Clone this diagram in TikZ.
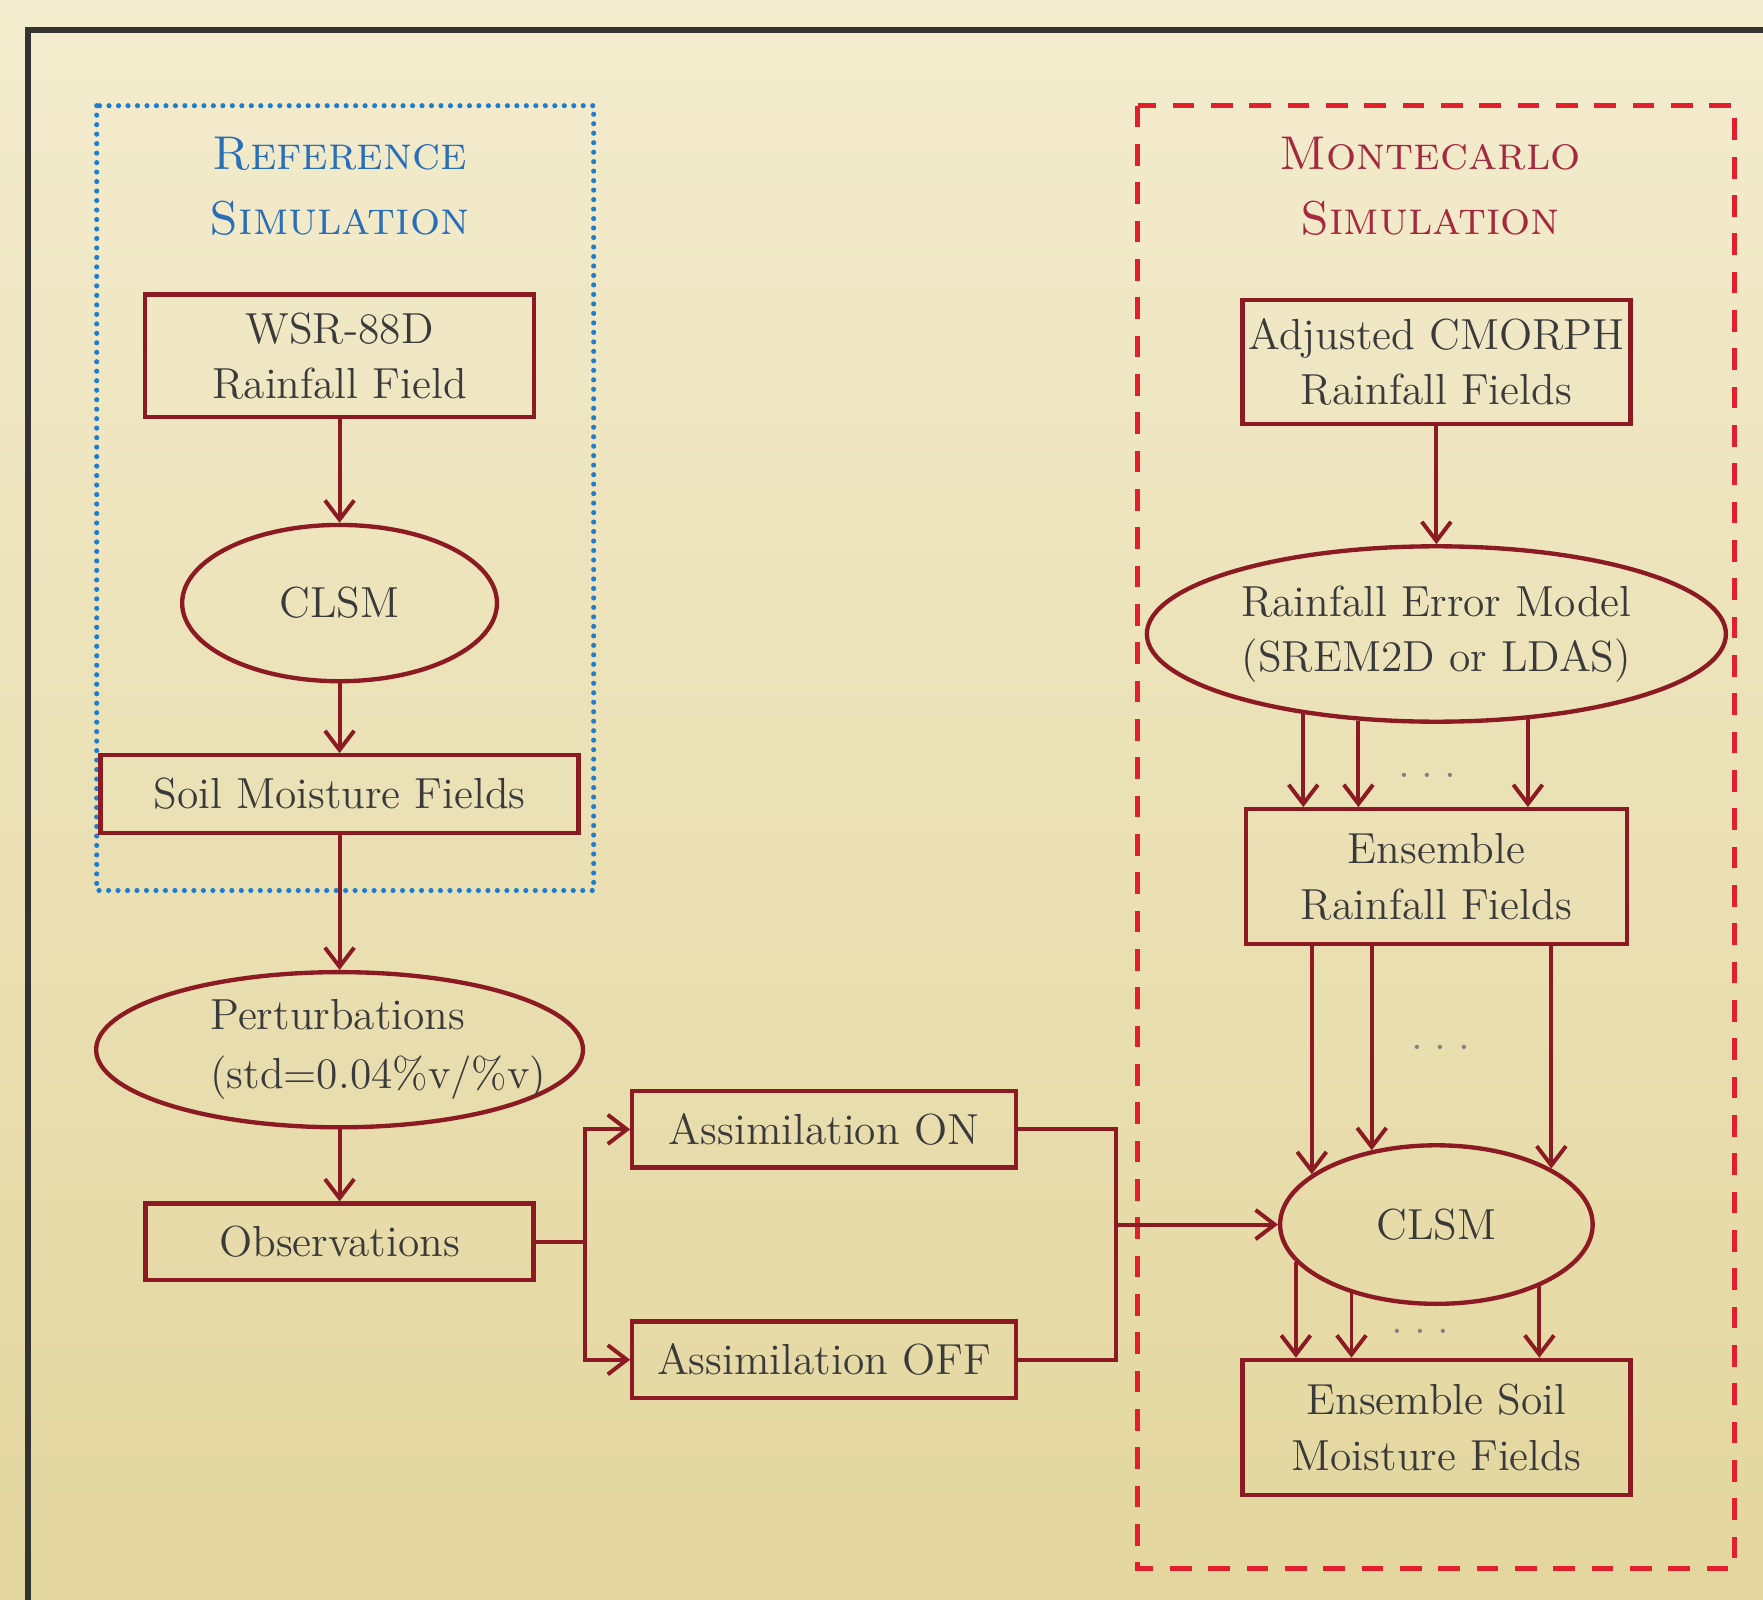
\documentclass[tikz,border=0pt]{standalone}
\usepackage{tikz}
\usetikzlibrary{calc,positioning,arrows.meta,shapes.geometric}
\definecolor{parchtop}{RGB}{243,236,206}
\definecolor{parchbot}{RGB}{227,214,158}
\definecolor{boxred}{RGB}{139,26,34}
\definecolor{inkgray}{RGB}{58,58,58}
\definecolor{refblue}{RGB}{40,110,185}
\definecolor{dotblue}{RGB}{30,125,205}
\definecolor{mcred}{RGB}{165,40,62}
\definecolor{dashred}{RGB}{226,32,45}

\begin{document}
\begin{tikzpicture}[
    font=\fontsize{11}{14}\selectfont,
    box/.style={draw=boxred, line width=1.1pt, text=inkgray, align=center, inner xsep=1pt, inner ysep=2pt},
    oval/.style={ellipse, draw=boxred, line width=1.1pt, text=inkgray, align=center, inner sep=0pt},
    title/.style={align=center, font=\fontsize{12}{16.5}\selectfont\scshape},
    arrow/.style={-{Straight Barb[length=1.7mm,width=2.6mm]}, line width=1pt, draw=boxred},
    link/.style={line width=1pt, draw=boxred},
    gap/.style={text=gray, font=\fontsize{11}{11}\selectfont, inner sep=0pt}
  ]
    % canvas and outer frame
    \useasboundingbox (0,0) rectangle (15.68,-14.23);
    \shade[top color=parchtop, bottom color=parchbot] (0,0) rectangle (15.68,-14.23);
    \begin{scope}
      \clip (0,0) rectangle (15.68,-14.23);
      \draw[line width=1.5pt, draw=black!80] (0.25,-0.27) rectangle (16.2,-15);
    \end{scope}

    % group frames
    \draw[dotblue, line width=1.3pt, dash pattern=on 0pt off 2.4pt, line cap=round] (0.86,-0.94) rectangle (5.28,-7.92);
    \draw[dashred, line width=1.3pt, dash pattern=on 5.5pt off 4.2pt] (10.12,-0.94) rectangle (15.43,-13.95);

    \node[title, text=refblue] (reftitle) at (3.02,-1.66) {Reference\\Simulation};
    \node[title, text=mcred] (mctitle) at (12.72,-1.66) {Montecarlo\\Simulation};

    % reference column
    \node[box, minimum width=3.46cm, minimum height=1.09cm] (wsr) at (3.02,-3.165) {WSR-88D\\Rainfall Field};
    \node[oval, minimum width=2.80cm, minimum height=1.39cm, below=0.92cm of wsr] (clsmref) {CLSM};
    \node[box, minimum width=4.25cm, minimum height=0.69cm, below=0.62cm of clsmref] (soilref) {Soil Moisture Fields};
    \node[oval, align=left, minimum width=4.33cm, minimum height=1.38cm, below=1.20cm of soilref] (pert) {\makebox[2.9cm][l]{\hspace{0.3cm}Perturbations}\\[1pt]\makebox[2.9cm][l]{\hspace{0.3cm}(std=0.04\%v/\%v)}};
    \node[box, minimum width=3.45cm, minimum height=0.68cm, below=0.64cm of pert] (obs) {Observations};

    % assimilation switch
    \node[box, minimum width=3.41cm, minimum height=0.68cm, right=0.84cm of obs, yshift=1cm] (assimon) {Assimilation ON};
    \node[box, minimum width=3.41cm, minimum height=0.68cm, below=1.33cm of assimon] (assimoff) {Assimilation OFF};

    % montecarlo column
    \node[box, minimum width=3.45cm, minimum height=1.10cm] (cmorph) at (12.775,-3.22) {Adjusted CMORPH\\Rainfall Fields};
    \node[oval, minimum width=5.15cm, minimum height=1.56cm, below=1.05cm of cmorph] (errmodel) {Rainfall Error Model\\(SREM2D or LDAS)};
    \node[box, minimum width=3.39cm, minimum height=1.20cm, below=0.74cm of errmodel] (ensrain) {Ensemble\\Rainfall Fields};
    \node[oval, minimum width=2.78cm, minimum height=1.41cm, below=1.75cm of ensrain] (clsmmc) {CLSM};
    \node[box, minimum width=3.45cm, minimum height=1.20cm, below=0.46cm of clsmmc] (enssoil) {Ensemble Soil\\Moisture Fields};

    \node[gap] (dotsa) at ($(errmodel.south)!0.5!(ensrain.north)+(-0.08,-0.09)$) {.\hspace{0.1cm}.\hspace{0.1cm}.};
    \node[gap] (dotsb) at ($(ensrain.south)!0.5!(clsmmc.north)+(0.04,-0.02)$) {.\hspace{0.1cm}.\hspace{0.1cm}.};
    \node[gap] (dotsc) at ($(clsmmc.south)!0.5!(enssoil.north)+(-0.14,0)$) {.\hspace{0.1cm}.\hspace{0.1cm}.};

    \draw[arrow] (wsr) -- (clsmref);
    \draw[arrow] (clsmref) -- (soilref);
    \draw[arrow] (soilref) -- (pert);
    \draw[arrow] (pert) -- (obs);

    \coordinate (split) at ($(obs.east)+(0.44,0)$);
    \draw[link] (obs.east) -- (split);
    \draw[arrow] (split) |- (assimon.west);
    \draw[arrow] (split) |- (assimoff.west);

    \coordinate (mergex) at ($(assimon.east)+(0.87,0)$);
    \coordinate (join) at (mergex |- clsmmc.west);
    \draw[link] (assimon.east) -| (join) |- (assimoff.east);
    \draw[arrow] (join) -- (clsmmc.west);

    \draw[arrow] (cmorph) -- (errmodel);
    \draw[arrow] (errmodel.211) -- (errmodel.211 |- ensrain.north);
    \draw[arrow] (errmodel.228) -- (errmodel.228 |- ensrain.north);
    \draw[arrow] (errmodel.317.6) -- (errmodel.317.6 |- ensrain.north);

    \draw[arrow] (clsmmc.158.6 |- ensrain.south) -- (clsmmc.158.6);
    \draw[arrow] (clsmmc.131.6 |- ensrain.south) -- (clsmmc.131.6);
    \draw[arrow] (clsmmc.26.6 |- ensrain.south) -- (clsmmc.26.6);

    \draw[arrow] (clsmmc.195.5) -- (clsmmc.195.5 |- enssoil.north);
    \draw[arrow] (clsmmc.219.4) -- (clsmmc.219.4 |- enssoil.north);
    \draw[arrow] (clsmmc.329.6) -- (clsmmc.329.6 |- enssoil.north);
  \end{tikzpicture}
\end{document}
